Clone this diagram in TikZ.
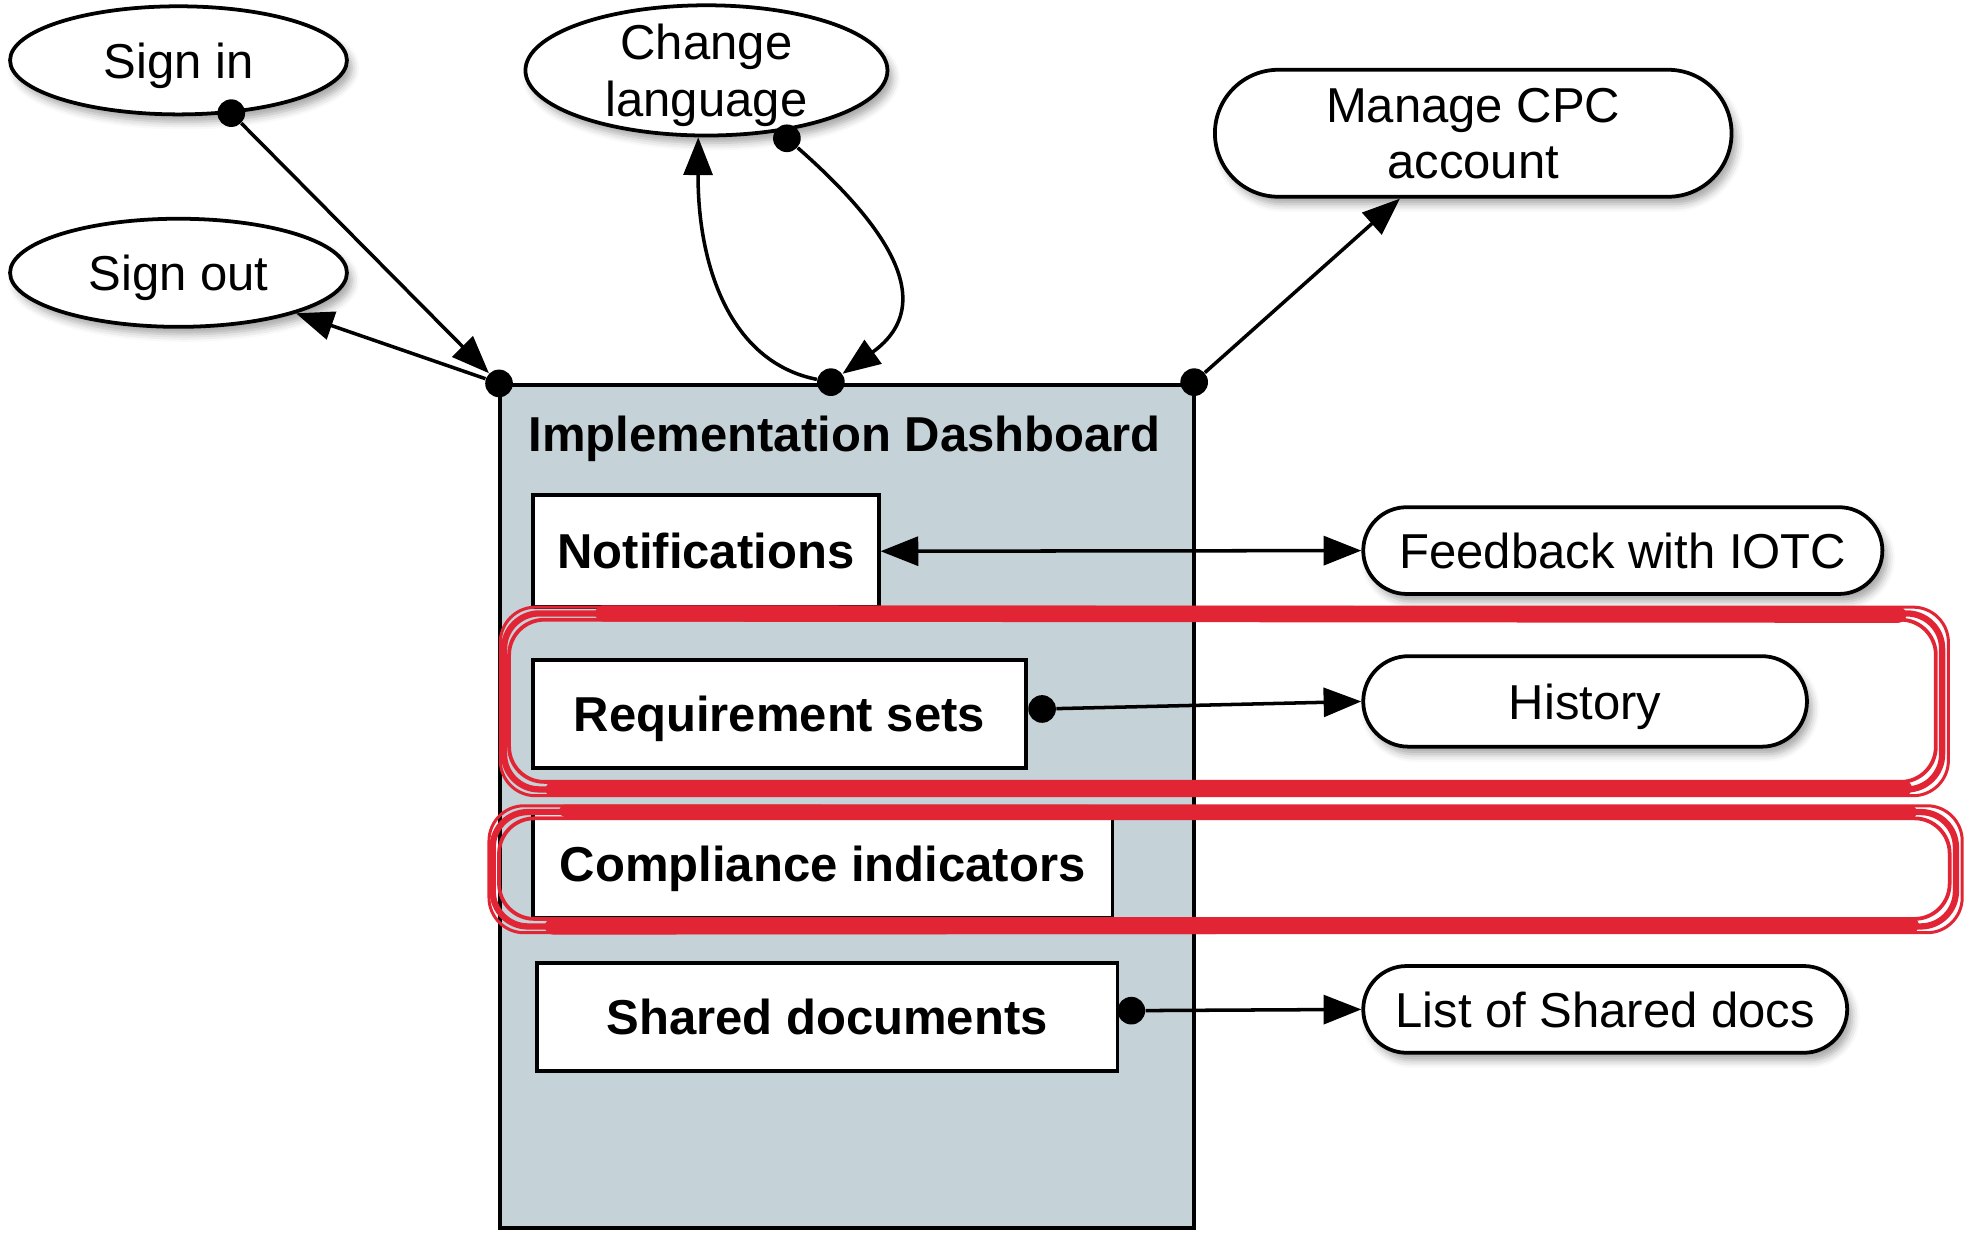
\documentclass[tikz,border=0pt]{standalone}
\usepackage{fontspec}
\setmainfont{Liberation Sans}
\usetikzlibrary{arrows.meta,shapes.geometric,shapes.misc,shadows.blur}
\definecolor{dashfill}{RGB}{197,210,216}
\definecolor{redmark}{RGB}{226,37,52}
\begin{document}
\begin{tikzpicture}[x=0.5pt,y=-0.5pt,
  font=\fontsize{19.5pt}{22.5pt}\selectfont,
  myshadow/.style={blur shadow={shadow xshift=2pt,shadow yshift=-3pt,shadow blur radius=3pt,shadow opacity=35}},
  oval/.style={ellipse,draw,line width=1.5pt,fill=white,inner sep=0pt,align=center,text depth=0pt,myshadow},
  pill/.style={rounded rectangle,draw,line width=1.5pt,fill=white,inner sep=0pt,align=center,text depth=0pt,myshadow},
  item/.style={rectangle,draw,line width=1.5pt,fill=white,inner sep=0pt,text depth=0pt,font=\fontsize{19.5pt}{22.5pt}\selectfont\bfseries},
  dot/.style={circle,fill=black,inner sep=0pt,minimum size=11pt},
  conn/.style={line width=1.4pt,-{Triangle[length=15pt,width=11.5pt]}},
  redhl/.style={draw=redmark,rounded corners=14pt},
  redband/.style={draw=redmark,line cap=round}
]
\useasboundingbox (0,0) rectangle (1568,982);

% dashboard
\node[draw,line width=1.5pt,fill=dashfill,minimum width=276pt,minimum height=335.5pt,inner sep=0pt] (dash) at (674,641.5) {};
\node[font=\fontsize{19.5pt}{22.5pt}\selectfont\bfseries,text depth=0pt] (dtitle) at (672,345) {Implementation Dashboard};

\node[item,minimum width=137.5pt,minimum height=44.5pt] (notif) at (561.5,438.5) {Notifications};
\node[item,minimum width=196pt,minimum height=43pt] (req) at (620,568) {Requirement sets};
\node[item,minimum width=230.5pt,minimum height=42.5pt] (comp) at (654.5,687.5) {Compliance indicators};
\node[item,minimum width=231pt,minimum height=43pt] (shared) at (658,809) {Shared documents};

% outer nodes
\node[oval,minimum width=134pt,minimum height=43pt] (signin) at (142,48) {Sign in};
\node[oval,minimum width=134pt,minimum height=43pt] (signout) at (142,217) {Sign out};
\node[oval,minimum width=144pt,minimum height=51pt] (lang) at (562,56) {Change\\language};
\node[pill,minimum width=205.5pt,minimum height=50.5pt] (cpc) at (1172,106) {Manage CPC\\account};
\node[pill,minimum width=206.5pt,minimum height=34.5pt] (feed) at (1291,438) {Feedback with IOTC};
\node[pill,minimum width=176.5pt,minimum height=36pt] (hist) at (1261,558) {History};
\node[pill,minimum width=192.5pt,minimum height=34.5pt] (list) at (1277,803) {List of Shared docs};

% dots
\node[dot] (dA) at (397,305) {};
\node[dot] (dB) at (661,304) {};
\node[dot] (dD) at (950,304) {};
\node[dot] (dSI) at (184,90) {};
\node[dot] (dL) at (626,110) {};
\node[dot] (dR) at (829,564) {};
\node[dot] (dS) at (900,804) {};

% connectors
\draw[conn] (dSI) -- (dA);
\draw[conn] (dA) -- (signout);
\draw[conn] (dB) .. controls (580,288) and (555,210) .. (lang.-97);
\draw[conn] (dL) .. controls (700,175) and (750,240) .. (dB);
\draw[conn] (dD) -- (cpc);
\draw[line width=1.4pt,{Triangle[length=15pt,width=11.5pt]}-{Triangle[length=15pt,width=11.5pt]}] (notif.east) -- (feed.west);
\draw[conn] (dR) -- (hist.west);
\draw[conn] (dS) -- (list.west);

% red highlights
\draw[redhl,line width=2.5pt] (401,488) rectangle (1545,628);
\draw[redhl,line width=1.5pt] (405,493) rectangle (1540,622);
\draw[redhl,line width=1.2pt] (398,483) rectangle (1550,633);
\draw[redband,line width=6.5pt] (480,488) -- (1510,489);
\draw[redband,line width=6pt] (440,628) -- (1515,627);
\draw[redhl,line width=2.5pt] (392,646) rectangle (1556,737);
\draw[redhl,line width=1.5pt] (397,651) rectangle (1551,731);
\draw[redhl,line width=1.2pt] (389,641) rectangle (1561,742);
\draw[redband,line width=5pt] (450,645) -- (1520,646);
\draw[redband,line width=6.5pt] (440,737) -- (1520,736);
\end{tikzpicture}
\end{document}
